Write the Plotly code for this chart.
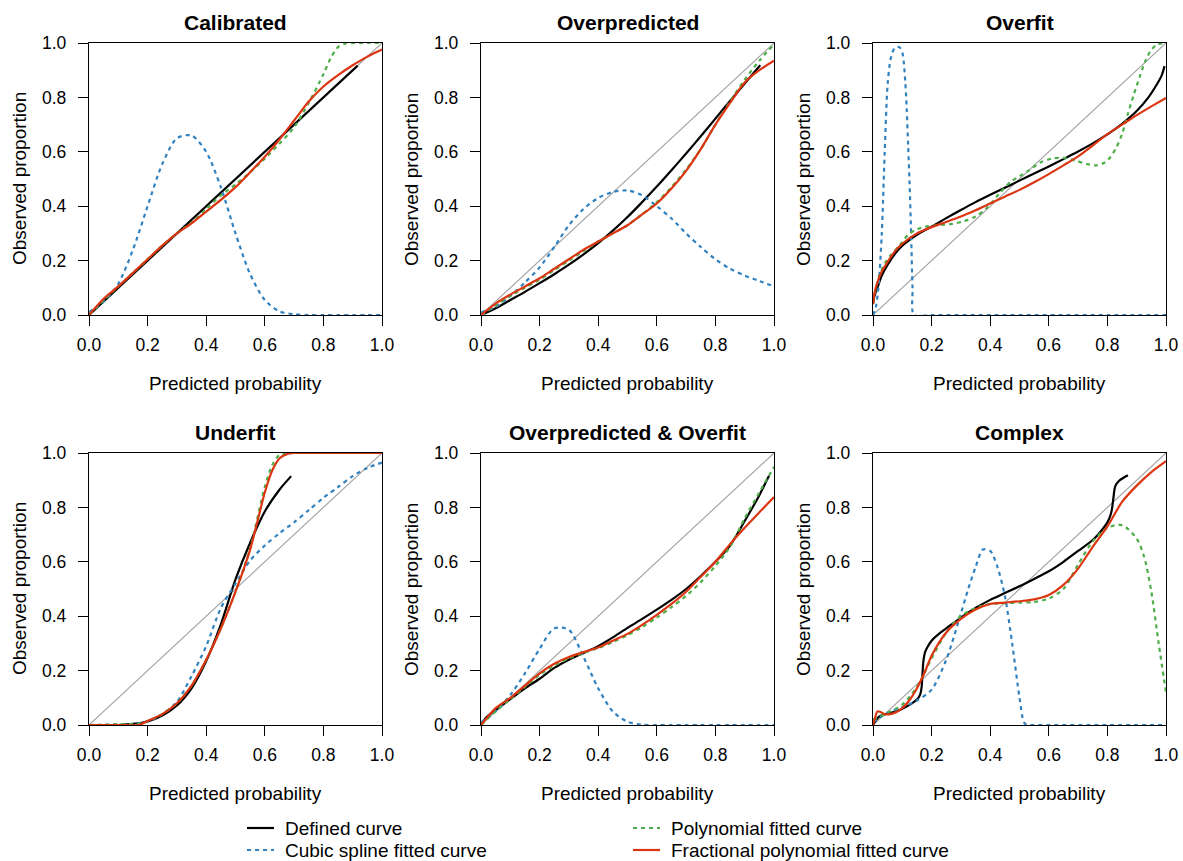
import plotly.graph_objects as go

# ---------------------------------------------------------------- data
GRID = [0.0, 0.05, 0.1, 0.15, 0.2, 0.25, 0.3, 0.35, 0.4, 0.45, 0.5,
        0.55, 0.6, 0.65, 0.7, 0.75, 0.8, 0.85, 0.9, 0.95, 1.0]

panel_titles = ["Calibrated", "Overpredicted", "Overfit",
                "Underfit", "Overpredicted & Overfit", "Complex"]
tick_vals = [0.0, 0.2, 0.4, 0.6, 0.8, 1.0]
tick_text = ["0.0", "0.2", "0.4", "0.6", "0.8", "1.0"]
series_names = ["Defined curve", "Cubic spline fitted curve",
                "Polynomial fitted curve", "Fractional polynomial fitted curve"]

# Calibrated
cal_def_x = [0.0, 0.917]
cal_def_y = [0.0, 0.917]
cal_spl_x = GRID
cal_spl_y = [0.01, 0.05, 0.115, 0.24, 0.40, 0.555, 0.65, 0.66, 0.60, 0.47, 0.30,
             0.15, 0.055, 0.013, 0.003, 0.0, 0.0, 0.0, 0.0, 0.0, 0.0]
cal_pol_x = [0.0, 0.05, 0.1, 0.15, 0.2, 0.25, 0.3, 0.35, 0.4, 0.45, 0.5, 0.55, 0.6,
             0.65, 0.7, 0.75, 0.8, 0.825, 0.85, 0.875, 0.9, 0.95, 1.0]
cal_pol_y = [0.0, 0.055, 0.105, 0.155, 0.205, 0.255, 0.30, 0.34, 0.39, 0.44, 0.48,
             0.525, 0.575, 0.63, 0.69, 0.78, 0.885, 0.945, 0.985, 0.998, 1.0, 1.0, 1.0]
cal_fp_x = GRID
cal_fp_y = [0.0, 0.06, 0.105, 0.155, 0.205, 0.255, 0.30, 0.337, 0.38, 0.423, 0.47,
            0.525, 0.582, 0.645, 0.715, 0.785, 0.84, 0.882, 0.918, 0.95, 0.976]

# Overpredicted
ovp_def_x = [0.01, 0.05, 0.1, 0.15, 0.2, 0.25, 0.3, 0.35, 0.4, 0.45, 0.5, 0.55,
             0.6, 0.65, 0.7, 0.75, 0.8, 0.85, 0.9, 0.953]
ovp_def_y = [0.005, 0.025, 0.055, 0.085, 0.117, 0.15, 0.185, 0.223, 0.264, 0.31,
             0.36, 0.415, 0.472, 0.532, 0.594, 0.657, 0.722, 0.787, 0.851, 0.918]
ovp_spl_x = GRID
ovp_spl_y = [0.01, 0.03, 0.07, 0.12, 0.175, 0.25, 0.33, 0.39, 0.43, 0.452, 0.458,
             0.44, 0.40, 0.355, 0.30, 0.25, 0.205, 0.17, 0.145, 0.125, 0.105]
ovp_pol_x = GRID
ovp_pol_y = [0.0, 0.035, 0.07, 0.10, 0.13, 0.165, 0.20, 0.235, 0.27, 0.30, 0.33,
             0.37, 0.415, 0.47, 0.535, 0.61, 0.70, 0.785, 0.865, 0.935, 0.995]
ovp_fp_x = GRID
ovp_fp_y = [0.0, 0.042, 0.075, 0.105, 0.135, 0.17, 0.205, 0.24, 0.27, 0.30, 0.33,
            0.37, 0.41, 0.465, 0.53, 0.61, 0.70, 0.78, 0.855, 0.90, 0.935]

# Overfit
of_def_x = [0.0, 0.005, 0.015, 0.03, 0.05, 0.075, 0.1, 0.15, 0.2, 0.25, 0.3, 0.35,
            0.4, 0.45, 0.5, 0.55, 0.6, 0.65, 0.7, 0.75, 0.8, 0.85, 0.9, 0.94, 0.97,
            0.985, 0.995]
of_def_y = [0.04, 0.07, 0.10, 0.145, 0.185, 0.225, 0.255, 0.295, 0.325, 0.356,
            0.386, 0.415, 0.442, 0.468, 0.494, 0.52, 0.546, 0.573, 0.601, 0.631,
            0.664, 0.703, 0.75, 0.80, 0.85, 0.88, 0.915]
of_spl_x = [0.0, 0.01, 0.02, 0.03, 0.04, 0.05, 0.06, 0.07, 0.08, 0.09, 0.10, 0.105,
            0.11, 0.115, 0.12, 0.125, 0.13, 0.135, 0.14, 0.2, 0.4, 0.6, 0.8, 1.0]
of_spl_y = [0.0, 0.03, 0.12, 0.30, 0.60, 0.85, 0.94, 0.975, 0.985, 0.985, 0.965,
            0.93, 0.86, 0.76, 0.62, 0.48, 0.30, 0.10, 0.0, 0.0, 0.0, 0.0, 0.0, 0.0]
of_pol_x = [0.0, 0.02, 0.04, 0.06, 0.09, 0.12, 0.15, 0.18, 0.22, 0.27, 0.31, 0.35,
            0.39, 0.43, 0.47, 0.5, 0.53, 0.57, 0.61, 0.65, 0.69, 0.73, 0.76, 0.79,
            0.81, 0.83, 0.85, 0.87, 0.89, 0.91, 0.93, 0.95, 0.97, 1.0]
of_pol_y = [0.05, 0.14, 0.19, 0.22, 0.255, 0.295, 0.315, 0.325, 0.33, 0.335, 0.345,
            0.362, 0.395, 0.445, 0.49, 0.51, 0.53, 0.56, 0.575, 0.578, 0.568, 0.555,
            0.55, 0.56, 0.58, 0.615, 0.665, 0.74, 0.81, 0.875, 0.935, 0.975, 0.995,
            1.0]
of_fp_x = [0.0, 0.005, 0.015, 0.03, 0.05, 0.075, 0.1, 0.15, 0.2, 0.25, 0.3, 0.35,
           0.4, 0.45, 0.5, 0.55, 0.6, 0.65, 0.7, 0.75, 0.8, 0.85, 0.9, 0.95, 1.0]
of_fp_y = [0.04, 0.08, 0.12, 0.16, 0.195, 0.235, 0.262, 0.30, 0.323, 0.342, 0.362,
           0.385, 0.41, 0.435, 0.46, 0.488, 0.518, 0.55, 0.583, 0.623, 0.665, 0.70,
           0.735, 0.767, 0.798]

# Underfit
uf_def_x = [0.1, 0.15, 0.2, 0.25, 0.3, 0.35, 0.4, 0.45, 0.5, 0.55, 0.6, 0.65, 0.69]
uf_def_y = [0.0, 0.004, 0.013, 0.035, 0.072, 0.135, 0.235, 0.37, 0.535, 0.67,
            0.785, 0.865, 0.915]
uf_spl_x = GRID
uf_spl_y = [0.0, 0.0, 0.002, 0.004, 0.012, 0.04, 0.085, 0.18, 0.29, 0.43, 0.52,
            0.605, 0.66, 0.705, 0.745, 0.79, 0.835, 0.875, 0.915, 0.945, 0.965]
uf_pol_x = [0.0, 0.1, 0.17, 0.2, 0.25, 0.3, 0.35, 0.4, 0.45, 0.5, 0.55, 0.6, 0.625,
            0.65, 0.675, 0.7, 0.8, 0.9, 1.0]
uf_pol_y = [0.0, 0.003, 0.005, 0.015, 0.04, 0.08, 0.145, 0.24, 0.355, 0.49, 0.65,
            0.875, 0.955, 0.993, 1.0, 1.0, 1.0, 1.0, 1.0]
uf_fp_x = [0.0, 0.1, 0.17, 0.2, 0.25, 0.3, 0.35, 0.4, 0.45, 0.5, 0.55, 0.6, 0.625,
           0.65, 0.675, 0.7, 0.8, 0.9, 1.0]
uf_fp_y = [0.0, 0.0, 0.0, 0.015, 0.04, 0.08, 0.145, 0.24, 0.355, 0.49, 0.645, 0.855,
           0.935, 0.98, 0.996, 1.0, 1.0, 1.0, 1.0]

# Overpredicted & Overfit
opo_def_x = [0.0, 0.02, 0.05, 0.1, 0.15, 0.2, 0.25, 0.3, 0.35, 0.4, 0.45, 0.5, 0.55,
             0.6, 0.65, 0.7, 0.75, 0.8, 0.85, 0.9, 0.95, 0.983]
opo_def_y = [0.0, 0.03, 0.055, 0.095, 0.135, 0.17, 0.21, 0.24, 0.265, 0.29, 0.322,
             0.357, 0.39, 0.424, 0.46, 0.50, 0.548, 0.60, 0.66, 0.75, 0.845, 0.916]
opo_spl_x = GRID
opo_spl_y = [0.01, 0.05, 0.11, 0.19, 0.28, 0.355, 0.35, 0.25, 0.135, 0.05, 0.012,
             0.001, 0.0, 0.0, 0.0, 0.0, 0.0, 0.0, 0.0, 0.0, 0.0]
opo_pol_x = GRID
opo_pol_y = [0.0, 0.05, 0.095, 0.14, 0.185, 0.218, 0.245, 0.265, 0.283, 0.305, 0.33,
             0.36, 0.395, 0.433, 0.475, 0.525, 0.585, 0.655, 0.76, 0.855, 0.949]
opo_fp_x = GRID
opo_fp_y = [0.0, 0.062, 0.10, 0.145, 0.19, 0.225, 0.25, 0.268, 0.285, 0.31, 0.335,
            0.368, 0.405, 0.445, 0.49, 0.545, 0.60, 0.665, 0.725, 0.782, 0.838]

# Complex
cx_def_x = [0.0, 0.02, 0.05, 0.08, 0.11, 0.14, 0.155, 0.162, 0.166, 0.169, 0.172,
            0.177, 0.185, 0.2, 0.225, 0.25, 0.3, 0.35, 0.4, 0.45, 0.5, 0.55, 0.6,
            0.65, 0.7, 0.75, 0.78, 0.8, 0.81, 0.815, 0.82, 0.825, 0.83, 0.84, 0.855,
            0.87]
cx_def_y = [0.0, 0.03, 0.042, 0.05, 0.065, 0.085, 0.10, 0.115, 0.14, 0.19, 0.235,
            0.265, 0.285, 0.31, 0.335, 0.355, 0.395, 0.43, 0.46, 0.485, 0.51, 0.537,
            0.565, 0.60, 0.64, 0.68, 0.715, 0.745, 0.77, 0.79, 0.83, 0.87, 0.885,
            0.898, 0.909, 0.918]
cx_spl_x = [0.0, 0.05, 0.1, 0.15, 0.2, 0.25, 0.3, 0.325, 0.35, 0.375, 0.4, 0.425,
            0.45, 0.475, 0.5, 0.515, 0.525, 0.55, 0.6, 0.8, 1.0]
cx_spl_y = [0.01, 0.045, 0.065, 0.09, 0.13, 0.24, 0.41, 0.50, 0.58, 0.645, 0.64,
            0.58, 0.475, 0.30, 0.10, 0.01, 0.0, 0.0, 0.0, 0.0, 0.0]
cx_pol_x = [0.0, 0.05, 0.1, 0.15, 0.2, 0.25, 0.3, 0.35, 0.4, 0.45, 0.5, 0.55, 0.6,
            0.65, 0.7, 0.75, 0.8, 0.85, 0.9, 0.925, 0.95, 0.975, 1.0]
cx_pol_y = [0.02, 0.045, 0.075, 0.14, 0.245, 0.34, 0.40, 0.43, 0.445, 0.448, 0.45,
            0.452, 0.465, 0.50, 0.59, 0.675, 0.725, 0.735, 0.685, 0.62, 0.49, 0.30,
            0.12]
cx_fp_x = [0.0, 0.008, 0.015, 0.025, 0.04, 0.06, 0.08, 0.1, 0.125, 0.15, 0.175, 0.2,
           0.25, 0.3, 0.35, 0.4, 0.45, 0.5, 0.55, 0.6, 0.65, 0.7, 0.75, 0.8, 0.85,
           0.9, 0.95, 1.0]
cx_fp_y = [0.0, 0.03, 0.05, 0.048, 0.04, 0.04, 0.048, 0.062, 0.092, 0.135, 0.19,
           0.255, 0.34, 0.39, 0.425, 0.445, 0.45, 0.455, 0.462, 0.478, 0.515, 0.575,
           0.655, 0.73, 0.82, 0.88, 0.93, 0.97]

panels = [
    (cal_def_x, cal_def_y, cal_spl_x, cal_spl_y, cal_pol_x, cal_pol_y, cal_fp_x, cal_fp_y),
    (ovp_def_x, ovp_def_y, ovp_spl_x, ovp_spl_y, ovp_pol_x, ovp_pol_y, ovp_fp_x, ovp_fp_y),
    (of_def_x, of_def_y, of_spl_x, of_spl_y, of_pol_x, of_pol_y, of_fp_x, of_fp_y),
    (uf_def_x, uf_def_y, uf_spl_x, uf_spl_y, uf_pol_x, uf_pol_y, uf_fp_x, uf_fp_y),
    (opo_def_x, opo_def_y, opo_spl_x, opo_spl_y, opo_pol_x, opo_pol_y, opo_fp_x, opo_fp_y),
    (cx_def_x, cx_def_y, cx_spl_x, cx_spl_y, cx_pol_x, cx_pol_y, cx_fp_x, cx_fp_y),
]

# ---------------------------------------------------------------- style
W, H = 1183, 861
FONT = "Liberation Sans, Arial, Helvetica, sans-serif"
C_DEF = "#000000"
C_SPL = "#3282c0"
C_POL = "#4cae48"
C_FP = "#dc3512"
C_DIAG = "#a0a0a0"
DOT = "4px,4px"
LW = 2.2

# line styles in series order: defined, cubic spline, polynomial, fractional polynomial
series_styles = [
    dict(color=C_DEF, width=LW),
    dict(color=C_SPL, width=LW, dash=DOT),
    dict(color=C_POL, width=LW, dash=DOT),
    dict(color=C_FP, width=LW),
]

col_px = [(89, 382), (481, 774), (873, 1166)]
row_px = [(43, 315), (453, 725)]

fig = go.Figure()
layout = dict(
    width=W, height=H,
    margin=dict(l=0, r=0, t=0, b=0, autoexpand=False),
    paper_bgcolor="white", plot_bgcolor="white",
    font=dict(family=FONT, color="black"),
    showlegend=False,
)
annotations = []
shapes = []

for i, (title, data) in enumerate(zip(panel_titles, panels)):
    r, c = divmod(i, 3)
    x0, x1 = col_px[c]
    y0, y1 = row_px[r]
    sfx = "" if i == 0 else str(i + 1)
    axis_common = dict(
        range=[0, 1], showline=True, mirror=True, linecolor="black", linewidth=1.3,
        ticks="outside", ticklen=10, tickwidth=1.3, tickcolor="black",
        tickvals=tick_vals, ticktext=tick_text, showgrid=False, zeroline=False,
        tickfont=dict(family=FONT, size=17.5, color="black"), fixedrange=True,
        automargin=False,
    )
    layout["xaxis" + sfx] = dict(axis_common, domain=[x0 / W, x1 / W],
                                 anchor="y" + sfx, ticklabelstandoff=4)
    layout["yaxis" + sfx] = dict(axis_common, domain=[1 - y1 / H, 1 - y0 / H],
                                 anchor="x" + sfx, ticklabelstandoff=8)

    xa, ya = "x" + sfx, "y" + sfx
    fig.add_trace(go.Scatter(x=[0, 1], y=[0, 1], mode="lines", xaxis=xa, yaxis=ya,
                             line=dict(color=C_DIAG, width=1.1), hoverinfo="skip"))
    for k in range(4):
        xs, ys = data[2 * k], data[2 * k + 1]
        line = dict(series_styles[k])
        line.update(shape="spline", smoothing=0.8)
        fig.add_trace(go.Scatter(x=xs, y=ys, mode="lines", xaxis=xa, yaxis=ya,
                                 name=series_names[k], line=line))

    cx = (x0 + x1) / 2
    cy = (y0 + y1) / 2
    annotations.append(dict(text="<b>%s</b>" % title, x=cx / W, y=1 - (y0 - 21) / H,
                            xref="paper", yref="paper", showarrow=False,
                            xanchor="center", yanchor="middle",
                            font=dict(family=FONT, size=21, color="black")))
    annotations.append(dict(text="Predicted probability", x=cx / W,
                            y=1 - (y1 + 68) / H, xref="paper", yref="paper",
                            showarrow=False, xanchor="center", yanchor="middle",
                            font=dict(family=FONT, size=19, color="black")))
    annotations.append(dict(text="Observed proportion", x=(x0 - 70) / W,
                            y=1 - cy / H, xref="paper", yref="paper", textangle=-90,
                            showarrow=False, xanchor="center", yanchor="middle",
                            font=dict(family=FONT, size=19, color="black")))

# Key below the panels: two columns, two rows
key_slots = [(247, 828), (247, 850), (633, 828), (633, 850)]  # defined, spline, poly, fp
for k, (lx, ly) in enumerate(key_slots):
    shapes.append(dict(type="line", xref="paper", yref="paper",
                       x0=lx / W, x1=(lx + 27) / W, y0=1 - ly / H, y1=1 - ly / H,
                       line=series_styles[k]))
    annotations.append(dict(text=series_names[k], x=(lx + 36) / W, y=1 - ly / H,
                            xref="paper", yref="paper", showarrow=False,
                            xanchor="left", yanchor="middle",
                            font=dict(family=FONT, size=19, color="black")))

layout["annotations"] = annotations
layout["shapes"] = shapes
fig.update_layout(**layout)
fig.write_html("out.html")
